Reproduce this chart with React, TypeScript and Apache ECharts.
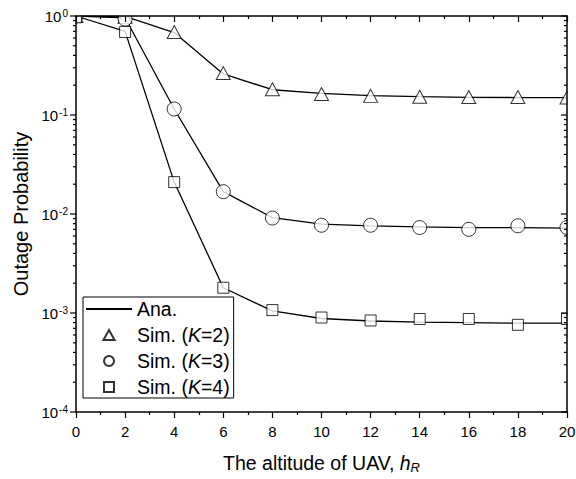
import React, { useEffect, useRef } from 'react';
import * as echarts from 'echarts';

const altitudes = [0, 2, 4, 6, 8, 10, 12, 14, 16, 18, 20];

const anaK2 = [1.0, 0.99, 0.68, 0.26, 0.18, 0.165, 0.157, 0.153, 0.151, 0.150, 0.150];
const anaK3 = [1.0, 0.96, 0.115, 0.0168, 0.0092, 0.0079, 0.0076, 0.0074, 0.0073, 0.0073, 0.0072];
const anaK4 = [1.0, 0.70, 0.021, 0.0018, 0.00105, 0.00088, 0.00083, 0.00081, 0.0008, 0.00079, 0.00079];

const simK2 = [1.0, 0.98, 0.69, 0.265, 0.182, 0.163, 0.156, 0.153, 0.152, 0.152, 0.150];
const simK3 = [1.0, 0.93, 0.115, 0.0168, 0.0091, 0.0077, 0.0077, 0.0073, 0.0070, 0.0076, 0.0073];
const simK4 = [0.97, 0.69, 0.021, 0.0018, 0.00107, 0.0009, 0.00084, 0.00087, 0.00087, 0.00076, 0.00087];

const yMajorTicks = [1e-4, 1e-3, 1e-2, 1e-1, 1];
const yMinorTicks: number[] = [];
for (let e = -4; e < 0; e++) {
  for (let m = 2; m <= 9; m++) yMinorTicks.push(Number((m * Math.pow(10, e)).toPrecision(3)));
}

const legendNames = ['Ana.', 'Sim. (K=2)', 'Sim. (K=3)', 'Sim. (K=4)'];

const FONT = '"Liberation Sans", Arial, Helvetica, sans-serif';

const zip = (ys: number[]) => altitudes.map((x, i) => [x, ys[i]]);

export default function App() {
  const ref = useRef<HTMLDivElement>(null);
  useEffect(() => {
    document.body.style.margin = '0';
    const chart = echarts.init(ref.current!, null, { renderer: 'svg' });
    const black = '#000';
    const gridL = 76, gridR = 9, gridT = 16, gridB = 67;
    const W = 576, H = 479;

    const logCommon: any = {
      type: 'log',
      logBase: 10,
      min: 1e-4,
      max: 1,
      splitLine: { show: false },
      minorTick: { show: false },
      minorSplitLine: { show: false },
      axisTick: { show: false },
      z: 10,
    };

    const lineSeries = (data: number[]) => ({
      type: 'line',
      name: 'Ana.',
      data: zip(data),
      symbol: 'none',
      showSymbol: false,
      lineStyle: { color: black, width: 1.3 },
      itemStyle: { color: black },
      z: 2,
    });
    const simSeries = (name: string, data: number[], symbol: string, size: any) => ({
      type: 'scatter',
      name,
      data: zip(data),
      symbol,
      symbolSize: size,
      itemStyle: { color: '#fff', borderColor: black, borderWidth: 1 },
      z: 3,
    });

    const option: any = {
      animation: false,
      textStyle: { fontFamily: FONT, color: black },
      grid: { left: gridL, right: gridR, top: gridT, bottom: gridB, containLabel: false, outerBoundsMode: 'none' },
      xAxis: [
        {
          type: 'value',
          min: 0,
          max: 20,
          interval: 2,
          position: 'bottom',
          z: 10,
          axisLine: { show: true, onZero: false, lineStyle: { color: black, width: 1.5 } },
          axisTick: { show: true, inside: false, length: 6, lineStyle: { color: black, width: 1.2 } },
          minorTick: { show: true, splitNumber: 2, length: 3, lineStyle: { color: black, width: 1.2 } },
          splitLine: { show: false },
          axisLabel: { color: black, fontSize: 15, fontFamily: FONT, margin: 12 },
          name: 'The altitude of UAV, {i|h}{sub|R}',
          nameLocation: 'middle',
          nameGap: 39,
          nameTextStyle: {
            fontSize: 19.5,
            fontFamily: FONT,
            color: black,
            rich: {
              i: { fontSize: 19.5, fontStyle: 'italic', fontFamily: FONT, color: black },
              sub: { fontSize: 13, fontStyle: 'italic', fontFamily: FONT, color: black, verticalAlign: 'bottom', padding: [10, 0, 0, 0] },
            },
          },
        },
        {
          type: 'value',
          min: 0,
          max: 20,
          interval: 2,
          position: 'top',
          z: 10,
          axisLine: { show: true, onZero: false, lineStyle: { color: black, width: 1.5 } },
          axisTick: { show: true, inside: true, length: 6, lineStyle: { color: black, width: 1.2 } },
          minorTick: { show: true, splitNumber: 2, length: 3, lineStyle: { color: black, width: 1.2 } },
          splitLine: { show: false },
          axisLabel: { show: false },
        },
      ],
      yAxis: [
        {
          ...logCommon,
          position: 'left',
          axisLine: { show: true, onZero: false, lineStyle: { color: black, width: 1.5 } },
          axisLabel: {
            customValues: yMajorTicks,
            margin: 8,
            color: black,
            formatter: (v: number) => `{b|10}{s|${Math.round(Math.log10(v))}}`,
            rich: {
              b: { fontSize: 15, lineHeight: 16, fontFamily: FONT, color: black },
              s: { fontSize: 10, lineHeight: 10, fontFamily: FONT, color: black, verticalAlign: 'top', padding: [0, 0, 0, 1] },
            },
          },
          name: 'Outage Probability',
          nameLocation: 'middle',
          nameGap: 45,
          nameTextStyle: { fontSize: 20, fontFamily: FONT, color: black },
        },
        {
          ...logCommon,
          position: 'right',
          axisLine: { show: true, onZero: false, lineStyle: { color: black, width: 1.5 } },
          axisLabel: { show: false },
        },
      ],
      legend: {
        data: [
          { name: legendNames[0], itemStyle: { opacity: 0 } },
          { name: legendNames[1], icon: 'path://M5,0 L10,9 L0,9 Z' },
          { name: legendNames[2], icon: 'path://M0,5 A5,5 0 1,1 10,5 A5,5 0 1,1 0,5 Z' },
          { name: legendNames[3], icon: 'path://M0,0 L9,0 L9,9 L0,9 Z' },
        ],
        orient: 'vertical',
        left: 83,
        top: 297,
        itemWidth: 46,
        itemHeight: 10,
        itemGap: 6,
        padding: [2, 4, 1, 2],
        borderColor: black,
        borderWidth: 1,
        backgroundColor: '#fff',
        selectedMode: false,
        textStyle: {
          fontSize: 19.5,
          fontFamily: FONT,
          color: black,
          rich: {
            i: { fontSize: 19.5, fontStyle: 'italic', fontFamily: FONT, color: black },
          },
        },
        formatter: (name: string) => name.replace('K', '{i|K}'),
      },
      series: [
        lineSeries(anaK2),
        lineSeries(anaK3),
        lineSeries(anaK4),
        simSeries('Sim. (K=2)', simK2, 'triangle', [14, 13]),
        simSeries('Sim. (K=3)', simK3, 'circle', 14),
        simSeries('Sim. (K=4)', simK4, 'rect', 11),
      ],
    };
    chart.setOption(option);

    // Frame masks (clip markers to the plot box) and log-axis ticks placed through the axis scale
    const xLeft = chart.convertToPixel({ xAxisIndex: 0 }, 0) as number;
    const xRight = chart.convertToPixel({ xAxisIndex: 0 }, 20) as number;
    const yTop = chart.convertToPixel({ yAxisIndex: 0 }, 1) as number;
    const tickStyle = { stroke: black, lineWidth: 1.2 };
    const tickEls: any[] = [];
    const addTick = (v: number, len: number) => {
      const y = chart.convertToPixel({ yAxisIndex: 0 }, v) as number;
      tickEls.push({ type: 'line', z: 11, silent: true, shape: { x1: xLeft - len, y1: y, x2: xLeft, y2: y }, style: tickStyle });
      tickEls.push({ type: 'line', z: 11, silent: true, shape: { x1: xRight - len, y1: y, x2: xRight, y2: y }, style: tickStyle });
    };
    yMajorTicks.forEach((v) => addTick(v, 6));
    yMinorTicks.forEach((v) => addTick(v, 3));

    chart.setOption({
      graphic: {
        elements: [
          { type: 'rect', z: 5, silent: true, shape: { x: 0, y: 0, width: xLeft - 0.5, height: H }, style: { fill: '#fff' } },
          { type: 'rect', z: 5, silent: true, shape: { x: 0, y: 0, width: W, height: yTop - 0.5 }, style: { fill: '#fff' } },
          { type: 'rect', z: 5, silent: true, shape: { x: xRight + 0.5, y: 0, width: W - xRight, height: H }, style: { fill: '#fff' } },
          ...tickEls,
        ],
      },
    });
    return () => chart.dispose();
  }, []);
  return <div ref={ref} style={{ width: 576, height: 479 }} />;
}
